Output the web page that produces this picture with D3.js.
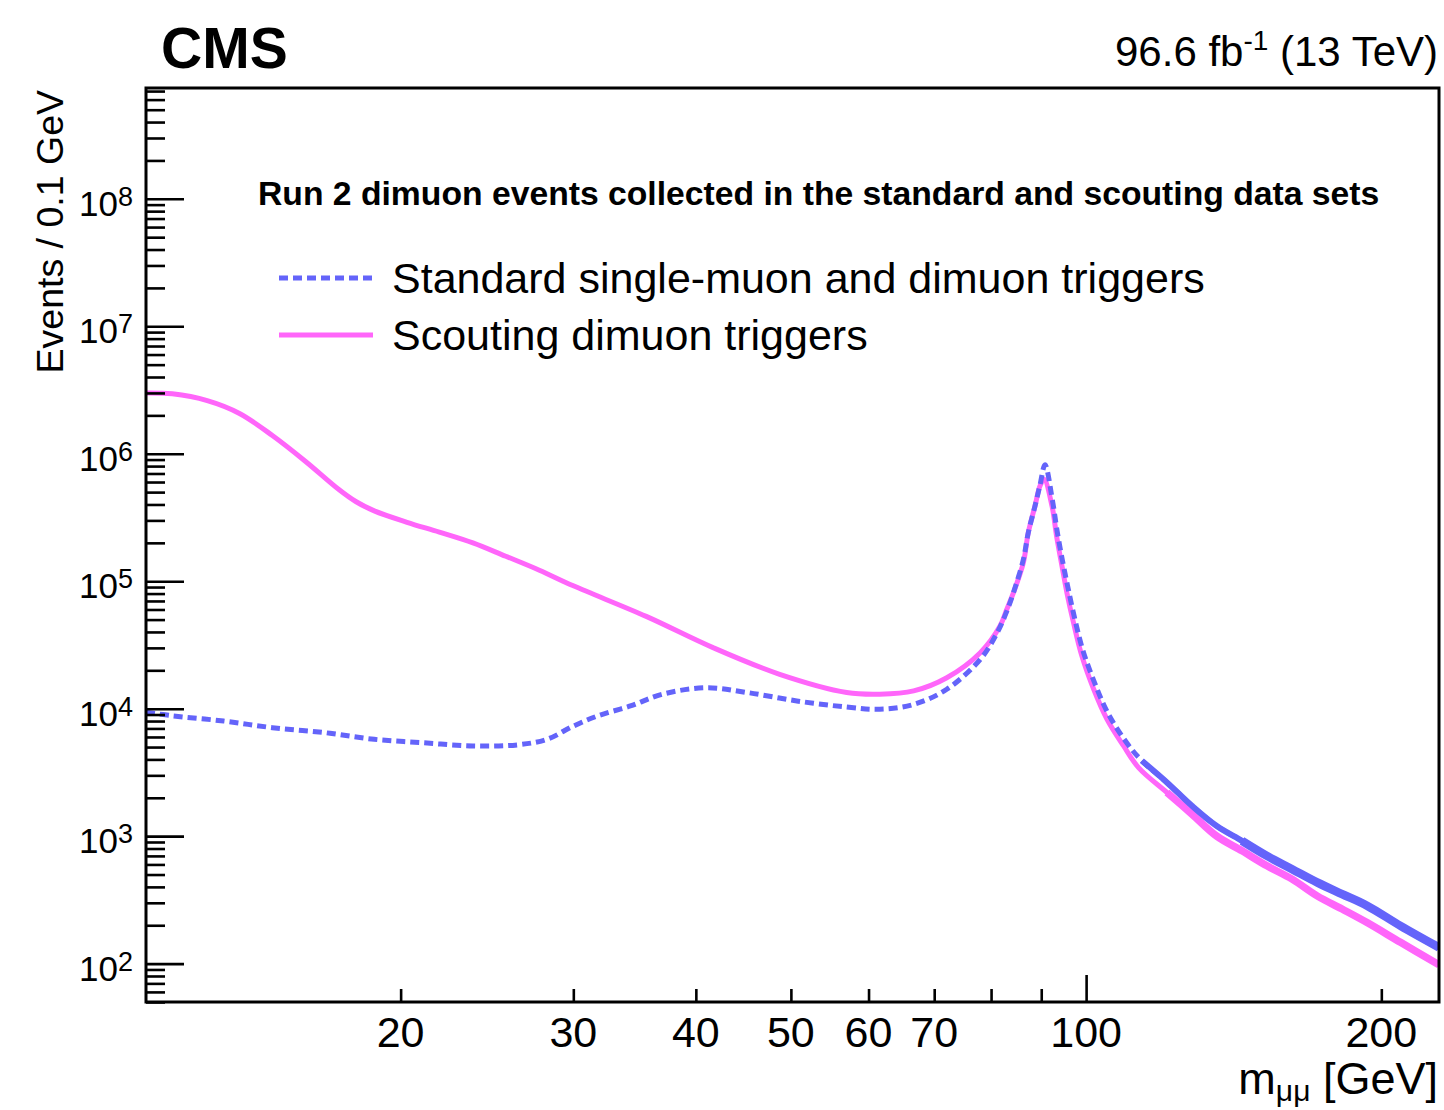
<!DOCTYPE html>
<html>
<head>
<meta charset="utf-8">
<script src="https://cdn.jsdelivr.net/npm/d3@7"></script>
<style>
  body { margin: 0; background: #fff; }
  text { font-family: "Liberation Sans", Arial, Helvetica, sans-serif; fill: #000; }
</style>
</head>
<body>
<svg id="chart" width="1444" height="1110"></svg>
<script>
// dimuon mass (GeV) and events / 0.1 GeV
const massStandard = [11, 11.7, 13.2, 14.8, 16.7, 18.8, 21.1, 23.7, 26.3, 28.2, 30.0, 31.8, 34.3, 37.0,
  41.0, 45.1, 50.7, 57.0, 61.6, 66.7, 72.1, 78.0, 81.1, 83.0, 84.3, 86.3, 87.3, 88.7, 89.75, 90.8,
  92.4, 93.4, 94.6, 95.8, 97.3, 99.2, 102, 105.2, 110, 114, 120.9, 128.2, 135.9, 144.2, 152.9, 162.2,
  172, 182.4, 193.4, 209.2, 229];
const eventsStandard = [9.4e3, 8.8e3, 8.0e3, 7.1e3, 6.5e3, 5.75e3, 5.4e3, 5.1e3, 5.2e3, 5.75e3, 7.3e3, 8.8e3, 1.05e4, 1.3e4,
  1.46e4, 1.34e4, 1.15e4, 1.03e4, 9.9e3, 1.08e4, 1.42e4, 2.44e4, 3.9e4, 5.8e4, 8.1e4, 1.48e5, 2.4e5, 3.9e5, 5.7e5, 8.2e5,
  4.3e5, 2.5e5, 1.45e5, 9.0e4, 5.2e4, 2.9e4, 1.6e4, 9.3e3, 5.4e3, 3.9e3, 2.64e3, 1.73e3, 1.2e3, 919, 700, 551,
  434, 351, 285, 198, 134];

const massScouting = [11, 11.7, 12.7, 13.7, 14.8, 16.0, 17.3, 18.0, 18.8, 20.3, 21.9, 23.7, 25.6, 27.7, 30.0,
  35.6, 41.7, 48.7, 57.0, 61.6, 66.7, 72.1, 78.0, 81.7, 83.0, 84.3, 86.3, 87.3, 88.7, 89.75, 90.6,
  92.3, 93.3, 94.5, 95.6, 97.1, 99.0, 101.8, 105.0, 109.2, 113.1, 120.9, 128.2, 135.9, 144.2, 152.9, 162.2,
  172, 182.4, 193.4, 209.2, 229];
const eventsScouting = [3.0e6, 2.95e6, 2.61e6, 2.07e6, 1.39e6, 8.7e5, 5.24e5, 4.22e5, 3.56e5, 2.9e5, 2.43e5, 2.0e5, 1.57e5, 1.22e5, 9.2e4,
  5.3e4, 3.0e4, 1.86e4, 1.34e4, 1.3e4, 1.38e4, 1.75e4, 2.75e4, 4.45e4, 6.0e4, 8.1e4, 1.4e5, 2.4e5, 3.9e5, 5.6e5, 6.3e5,
  3.9e5, 2.26e5, 1.31e5, 8.1e4, 4.7e4, 2.6e4, 1.42e4, 8.3e3, 5.1e3, 3.45e3, 2.2e3, 1.49e3, 1.0e3, 767, 585, 460,
  340, 268, 210, 147, 98];

const xTickValues = [20, 30, 40, 50, 60, 70, 80, 90, 100, 200];
const xTickLabels = ["20", "30", "40", "50", "60", "70", "", "", "100", "200"];
const yDecades = [2, 3, 4, 5, 6, 7, 8];

const legendTitle = "Run 2 dimuon events collected in the standard and scouting data sets";
const seriesNames = ["Standard single-muon and dimuon triggers", "Scouting dimuon triggers"];
const colStandard = "#6464fa";
const colScouting = "#ff66fa";

const svg = d3.select("#chart");
const pLeft = 146, pRight = 1439, pTop = 88, pBottom = 1002;

const x = d3.scaleLog().domain([11, 229]).range([pLeft, pRight]);
const y = d3.scaleLog().domain([50, 7.4e8]).range([pBottom, pTop]);

svg.append("clipPath").attr("id", "plotclip")
  .append("rect")
  .attr("x", pLeft).attr("y", pTop)
  .attr("width", pRight - pLeft).attr("height", pBottom - pTop);

// curves
const line = d3.line()
  .x(d => x(d[0]))
  .y(d => y(d[1]))
  .curve(d3.curveCatmullRom.alpha(0.5));

const scouting = massScouting.map((m, i) => [m, eventsScouting[i]]);
const standard = massStandard.map((m, i) => [m, eventsStandard[i]]);

const plot = svg.append("g").attr("clip-path", "url(#plotclip)");

plot.append("path")
  .attr("d", line(scouting))
  .attr("fill", "none")
  .attr("stroke", colScouting)
  .attr("stroke-width", 5);

// high-mass tail: bin-to-bin fluctuations make the curve look like a band
plot.append("path")
  .attr("d", line(scouting.filter(d => d[0] >= 120)))
  .attr("fill", "none")
  .attr("stroke", colScouting)
  .attr("stroke-width", 7.5);

plot.append("path")
  .attr("d", line(standard))
  .attr("fill", "none")
  .attr("stroke", colStandard)
  .attr("stroke-width", 5)
  .attr("stroke-dasharray", "9,5");

plot.append("path")
  .attr("d", line(standard.filter(d => d[0] >= 114)))
  .attr("fill", "none")
  .attr("stroke", colStandard)
  .attr("stroke-width", 6);

plot.append("path")
  .attr("d", line(standard.filter(d => d[0] >= 144)))
  .attr("fill", "none")
  .attr("stroke", colStandard)
  .attr("stroke-width", 8.5);

// y axis ticks
const yMajor = yDecades.map(k => Math.pow(10, k));
const yMinor = [];
for (let k = 1; k <= 8; k++) {
  for (let j = 2; j <= 9; j++) {
    const v = j * Math.pow(10, k);
    if (v >= 50 && v <= 7.4e8) yMinor.push(v);
  }
}

const yMinorAxis = svg.append("g")
  .attr("transform", `translate(${pLeft},0)`)
  .call(d3.axisLeft(y).tickValues(yMinor).tickSize(-19).tickFormat(""));
const yMajorAxis = svg.append("g")
  .attr("transform", `translate(${pLeft},0)`)
  .call(d3.axisLeft(y).tickValues(yMajor).tickSize(-38).tickFormat(""));

// x axis ticks
const xAxis = svg.append("g")
  .attr("transform", `translate(0,${pBottom})`)
  .call(d3.axisBottom(x).tickValues(xTickValues.filter(v => v !== 100)).tickSize(-13).tickFormat(""));
const xAxisMajor = svg.append("g")
  .attr("transform", `translate(0,${pBottom})`)
  .call(d3.axisBottom(x).tickValues([100]).tickSize(-27).tickFormat(""));

[yMinorAxis, yMajorAxis, xAxis, xAxisMajor].forEach(g => {
  g.select(".domain").remove();
  g.selectAll(".tick line").attr("stroke", "#000").attr("stroke-width", 2.6);
});

// frame
svg.append("rect")
  .attr("x", pLeft).attr("y", pTop)
  .attr("width", pRight - pLeft).attr("height", pBottom - pTop)
  .attr("fill", "none")
  .attr("stroke", "#000")
  .attr("stroke-width", 3);

// y tick labels 10^k
yDecades.forEach(k => {
  const t = svg.append("text")
    .attr("x", 133)
    .attr("y", y(Math.pow(10, k)) + 17)
    .attr("text-anchor", "end")
    .style("font-size", "35px");
  t.append("tspan").text("10");
  t.append("tspan")
    .attr("dy", -10)
    .style("font-size", "27px")
    .text(k);
});

// x tick labels
xTickValues.forEach((v, i) => {
  if (!xTickLabels[i]) return;
  svg.append("text")
    .attr("x", x(v))
    .attr("y", 1047)
    .attr("text-anchor", "middle")
    .style("font-size", "43px")
    .text(xTickLabels[i]);
});

// axis titles
const xt = svg.append("text")
  .attr("x", 1438)
  .attr("y", 1094)
  .attr("text-anchor", "end")
  .style("font-size", "45px");
xt.append("tspan").text("m");
xt.append("tspan").attr("dy", 7).style("font-size", "30px").text("μμ");
xt.append("tspan").attr("dy", -7).text(" [GeV]");

svg.append("text")
  .attr("transform", "translate(63,90) rotate(-90)")
  .attr("text-anchor", "end")
  .style("font-size", "37.5px")
  .text("Events / 0.1 GeV");

// header texts
svg.append("text")
  .attr("x", 161)
  .attr("y", 68)
  .style("font-size", "57px")
  .style("font-weight", "bold")
  .text("CMS");

const lumi = svg.append("text")
  .attr("x", 1438)
  .attr("y", 66)
  .attr("text-anchor", "end")
  .style("font-size", "42px");
lumi.append("tspan").text("96.6 fb");
lumi.append("tspan").attr("dy", -16).style("font-size", "28px").text("-1");
lumi.append("tspan").attr("dy", 16).text(" (13 TeV)");

// legend
svg.append("text")
  .attr("x", 258)
  .attr("y", 205)
  .style("font-size", "33.7px")
  .style("font-weight", "bold")
  .text(legendTitle);

const legendRows = [
  { name: seriesNames[0], color: colStandard, dash: "9,5", y: 278 },
  { name: seriesNames[1], color: colScouting, dash: null, y: 335 }
];
legendRows.forEach(r => {
  svg.append("line")
    .attr("x1", 279).attr("x2", 373)
    .attr("y1", r.y).attr("y2", r.y)
    .attr("stroke", r.color)
    .attr("stroke-width", 5)
    .attr("stroke-dasharray", r.dash);
  svg.append("text")
    .attr("x", 392)
    .attr("y", r.y + 15)
    .style("font-size", "43px")
    .text(r.name);
});
</script>
</body>
</html>
